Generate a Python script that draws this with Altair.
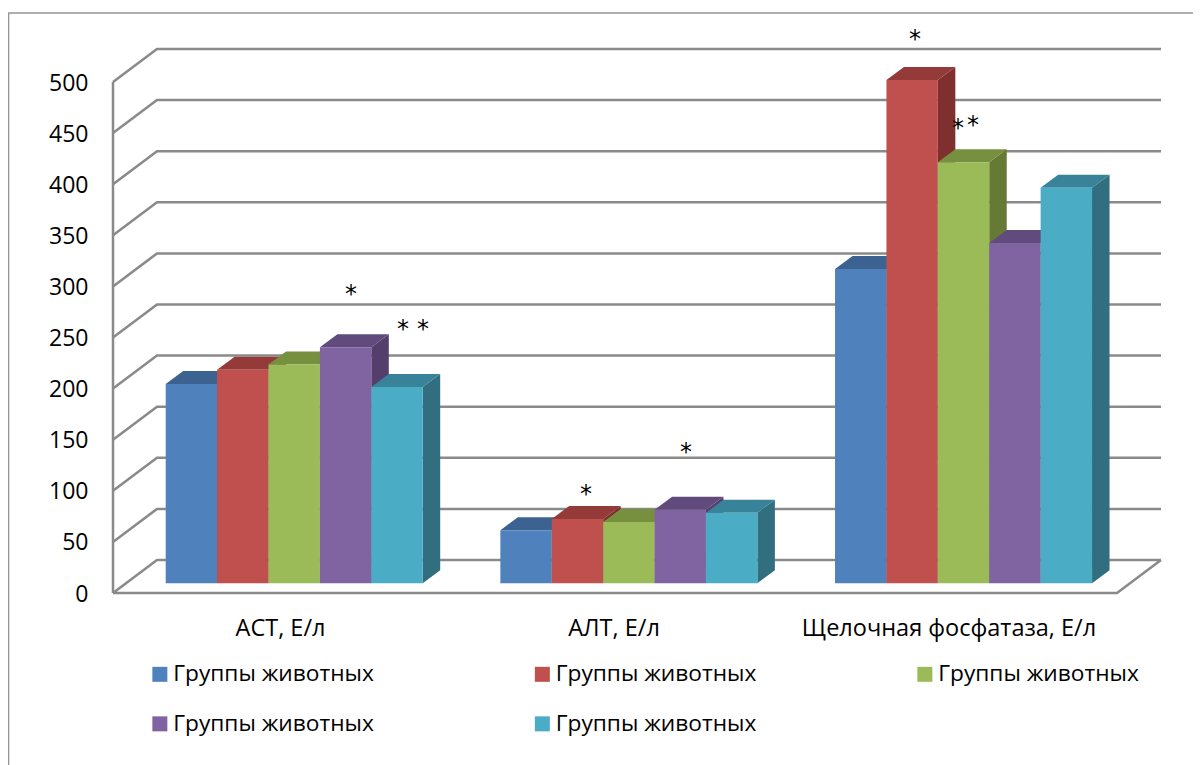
import altair as alt
import pandas as pd

# ---- values
categories = ["АСТ, Е/л", "АЛТ, Е/л", "Щелочная фосфатаза, Е/л"]
series_ids = ["g1", "g2", "g3", "g4", "g5"]
series_label = "Группы животных"
values = {
    "g1": [195, 52, 307.5],
    "g2": [209, 63, 492.5],
    "g3": [214, 60, 412],
    "g4": [231, 72, 333],
    "g5": [192, 69, 387],
}
front_colors = ["#4F81BD", "#C0504D", "#9BBB59", "#8064A2", "#4BACC6"]
top_colors = ["#3C6292", "#943B39", "#76903F", "#614B7C", "#39839A"]
side_colors = ["#345579", "#7F302E", "#667A35", "#543F6C", "#316E80"]
ticks = list(range(0, 501, 50))
stars = [(238, 292), (290, 257.5), (310, 257.5), (473, 95.5), (573, 136.5),
         (802, 541), (845, 454.5), (860, 456.5)]

# ---- chart geometry in data units (x: 1 unit per px of the plot width)
PW, PH = 1004, 511
Y_MAX = 500
group_pitch = PW / 3
bar_w = 51.4
lead = 52.7
wall_dx, wall_dy = 44, 32.3
depth_dx, depth_dy = 17.5, 12.7
base = 9.5
centers = [167, 500.5, 835.5]
border_x, border_top, border_bottom, border_right = -104.5, 567.5, -168.3, 1080

# ---- tables
wall = []
for t in ticks:
    for i, (x, y) in enumerate([(0, t), (wall_dx, t + wall_dy), (PW + wall_dx, t + wall_dy)]):
        wall.append({"k": f"g{t}", "i": i, "x": x, "y": y})
for k, pts in {
    "axis": [(0, 0), (0, Y_MAX)],
    "floor": [(0, 0), (PW, 0), (PW + wall_dx, wall_dy)],
}.items():
    for i, (x, y) in enumerate(pts):
        wall.append({"k": k, "i": i, "x": x, "y": y})
wall = pd.DataFrame(wall)

border = pd.DataFrame([
    {"i": 0, "x": border_x, "y": border_bottom},
    {"i": 1, "x": border_x, "y": border_top},
    {"i": 2, "x": border_right, "y": border_top},
])

fronts, sides, tops = [], [], []
for g in range(3):
    for s, sid in enumerate(series_ids):
        v = values[sid][g]
        xl = g * group_pitch + lead + s * bar_w
        xr = xl + bar_w
        key = f"{g}-{sid}"
        fronts.append({"s": sid, "x": xl, "xr": xr, "y": base + v, "y2": base})
        sides += [
            {"b": key, "s": sid, "x": xr, "y": base + v, "y2": base},
            {"b": key, "s": sid, "x": xr + depth_dx, "y": base + v + depth_dy, "y2": base + depth_dy},
        ]
        tops += [
            {"b": key, "s": sid, "y": base + v, "x": xl, "x2": xr},
            {"b": key, "s": sid, "y": base + v + depth_dy, "x": xl + depth_dx, "x2": xr + depth_dx},
        ]
fronts, sides, tops = map(pd.DataFrame, (fronts, sides, tops))
star_df = pd.DataFrame(stars, columns=["x", "y"]).assign(t="*")

# ---- scales and axes
FONT = "Open Sans"
xs = alt.Scale(domain=[0, PW], nice=False, zero=False)
ys = alt.Scale(domain=[0, Y_MAX], nice=False)
label_expr = "[" + ",".join(f"'{c}'" for c in categories) + "][indexof(" + str(centers) + ",datum.value)]"
x_axis = alt.Axis(
    values=centers, labelExpr=label_expr, domain=False, ticks=False, grid=False, title=None,
    labelFont=FONT, labelFontSize=23.5, labelColor="#000000", labelPadding=23, labelAngle=0,
    labelLimit=500, labelOverlap=False, labelFlush=False, labelBound=False)
y_axis = alt.Axis(
    values=ticks, domain=False, ticks=False, grid=False, title=None,
    labelFont=FONT, labelFontSize=23, labelColor="#000000", labelPadding=25, labelOffset=1,
    labelOverlap=False, labelFlush=False, labelBound=False)
X = alt.X("x:Q", scale=xs, axis=x_axis)
Y = alt.Y("y:Q", scale=ys, axis=y_axis)
LINE = "#8A8A8A"

border_l = alt.Chart(border).mark_line(color="#969696", strokeWidth=1.6, clip=False).encode(
    x=X, y=Y, order="i:O")
wall_l = alt.Chart(wall).mark_line(color=LINE, strokeWidth=2.5, clip=False).encode(
    x=X, y=Y, detail="k:N", order="i:O")
side_l = alt.Chart(sides).mark_area(clip=False).encode(
    x=X, y=Y, y2="y2:Q", detail="b:N",
    color=alt.Color("s:N", scale=alt.Scale(domain=series_ids, range=side_colors), legend=None))
top_l = alt.Chart(tops).mark_area(orient="horizontal", clip=False).encode(
    y=Y, x=X, x2="x2:Q", detail="b:N",
    color=alt.Color("s:N", scale=alt.Scale(domain=series_ids, range=top_colors), legend=None))
front_l = alt.Chart(fronts).mark_rect(clip=False).encode(
    x=X, x2="xr:Q", y=Y, y2="y2:Q",
    color=alt.Color("s:N", scale=alt.Scale(domain=series_ids, range=front_colors), legend=alt.Legend(
        orient="none", legendX=35.5, legendY=580.5, columns=3, direction="horizontal", title=None,
        labelExpr=f"'{series_label}'", symbolType="square", symbolSize=225, symbolStrokeWidth=0,
        labelFont=FONT, labelFontSize=22.7, labelColor="#000000", labelLimit=400, labelOffset=2,
        columnPadding=156.5, rowPadding=26, symbolOffset=0)),
)
star_l = alt.Chart(star_df).mark_text(font="DejaVu Sans", fontSize=24, color="#000000", baseline="middle", clip=False).encode(
    x=X, y=Y, text="t:N")

chart = alt.layer(border_l, wall_l, side_l, top_l, front_l, star_l).resolve_scale(color="independent").properties(
    width=PW, height=PH,
    background="#FFFFFF",
    padding={"left": 105, "top": 74, "right": 76, "bottom": 172},
    autosize=alt.AutoSizeParams(type="none"),
).configure_view(stroke=None)

chart.save("out.html", embed_options={"renderer": "svg", "actions": False})
